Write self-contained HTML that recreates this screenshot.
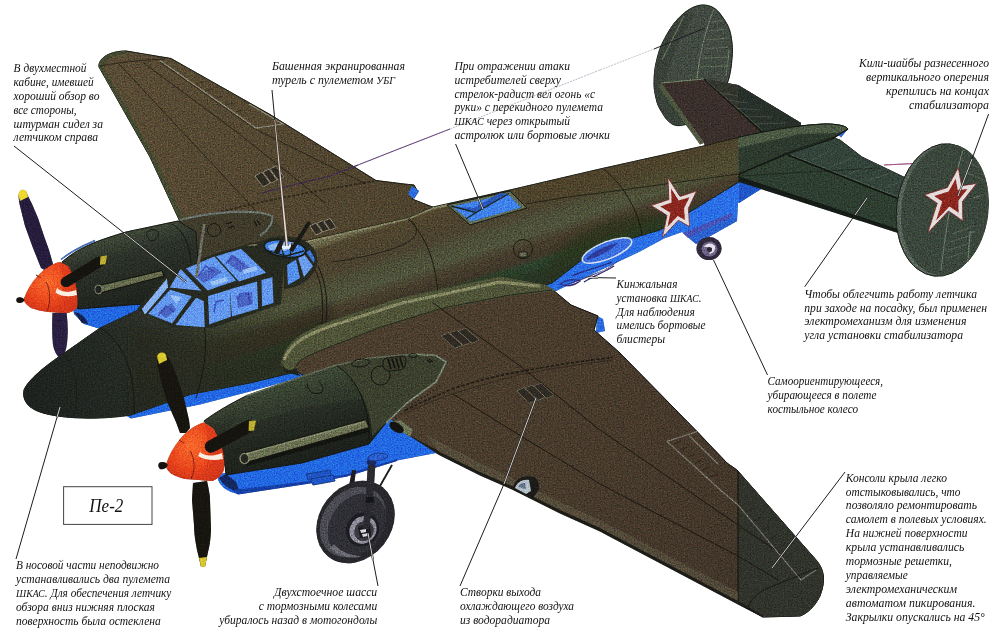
<!DOCTYPE html>
<html lang="ru"><head><meta charset="utf-8"><title>Пе-2</title>
<style>
html,body{margin:0;padding:0;background:#fff;}
body{width:1000px;height:637px;overflow:hidden;}
svg{display:block;}
.cap text{font-family:"Liberation Serif",serif;font-style:italic;font-size:12.5px;fill:#111;}
.cap .sc{font-size:10.8px;}
.ptr .pd{stroke:#1c1c1c;stroke-width:1;}
.ptr .po{stroke:#1c1c1c;stroke-width:2;}
.ptr .pw{stroke:#e8e8e4;stroke-width:0.9;}
</style></head><body>
<svg width="1000" height="637" viewBox="0 0 1000 637">
<rect width="1000" height="637" fill="#fff"/>
<g filter="url(#grain)">
<defs>
  <linearGradient id="gFus" gradientUnits="userSpaceOnUse" x1="430" y1="208" x2="461" y2="303">
    <stop offset="0" stop-color="#6c6a4c"/>
    <stop offset="0.05" stop-color="#50452e"/>
    <stop offset="0.3" stop-color="#4b422f"/>
    <stop offset="0.43" stop-color="#4c4e37"/>
    <stop offset="0.56" stop-color="#4f533b"/>
    <stop offset="0.67" stop-color="#473e2d"/>
    <stop offset="0.79" stop-color="#40372a"/>
    <stop offset="0.85" stop-color="#2c422b"/>
    <stop offset="1" stop-color="#283425"/>
  </linearGradient>
  <linearGradient id="gNose" gradientUnits="userSpaceOnUse" x1="20" y1="400" x2="300" y2="310">
    <stop offset="0" stop-color="#1d211e"/>
    <stop offset="0.3" stop-color="#232823"/>
    <stop offset="0.6" stop-color="#2c3229" stop-opacity="0.850"/>
    <stop offset="1" stop-color="#3c3f2a" stop-opacity="0"/>
  </linearGradient>
  <linearGradient id="gWingN" gradientUnits="userSpaceOnUse" x1="400" y1="330" x2="800" y2="600">
    <stop offset="0" stop-color="#4b3e2e"/>
    <stop offset="0.5" stop-color="#473a2c"/>
    <stop offset="1" stop-color="#3f3429"/>
  </linearGradient>
  <linearGradient id="gWingF" gradientUnits="userSpaceOnUse" x1="110" y1="60" x2="400" y2="220">
    <stop offset="0" stop-color="#594c35"/>
    <stop offset="1" stop-color="#4e432e"/>
  </linearGradient>
  <radialGradient id="gSpin" cx="0.45" cy="0.4" r="0.7">
    <stop offset="0" stop-color="#f8692c"/>
    <stop offset="0.6" stop-color="#e8431b"/>
    <stop offset="1" stop-color="#c62f17"/>
  </radialGradient>
  <linearGradient id="gNacN" gradientUnits="userSpaceOnUse" x1="290" y1="385" x2="312" y2="465">
    <stop offset="0" stop-color="#3e4936"/>
    <stop offset="0.25" stop-color="#2b3127"/>
    <stop offset="0.6" stop-color="#21261f"/>
    <stop offset="1" stop-color="#1b1f1a"/>
  </linearGradient>
  <linearGradient id="gNacF" gradientUnits="userSpaceOnUse" x1="120" y1="230" x2="138" y2="300">
    <stop offset="0" stop-color="#434c3a"/>
    <stop offset="0.35" stop-color="#2c3229"/>
    <stop offset="1" stop-color="#1f231e"/>
  </linearGradient>
  <filter id="grain" x="0" y="0" width="1000" height="637" filterUnits="userSpaceOnUse" color-interpolation-filters="sRGB">
    <feTurbulence type="fractalNoise" baseFrequency="0.7" numOctaves="2" seed="11" result="noise"/>
    <feColorMatrix in="noise" type="matrix" values="0.5 0.2 0.2 0 0.05  0.2 0.5 0.2 0 0.05  0.2 0.2 0.5 0 0.05  0 0 0 0 1" result="gn"/>
    <feComposite in="gn" in2="SourceAlpha" operator="in" result="gnc"/>
    <feBlend in="gnc" in2="SourceGraphic" mode="overlay"/>
  </filter>
  <clipPath id="cFus"><path d="M24,390 C28,380 45,366 63,354 L100,328 L138,310 L166,277 L250,244 L288,240 L305,241 L408,218 L433,207 L510,190 L600,169 L708,145 L738,137.500 C770,130 800,125 825,124 C838,124 846,126 848,129 L832,139 L799,150 L739,176 L739,182 L660,230 L631,238.500 L583,259 L552,283 L500,300 L312,368 L250,383 L190,394.500 L131,415 C100,420 60,419 40,412 C28,408 22,400 24,390 Z"/></clipPath>
  <filter id="b3" x="-20%" y="-20%" width="140%" height="140%"><feGaussianBlur stdDeviation="3.500"/></filter>
</defs>


<!-- ============ FAR WING ============ -->
<g id="farwing">
  <path d="M99,67 C98,58 110,51 126,51 L171,58.500 L270,114.500 L376,180.500 L404,184 L414,185 L418,192 L412,199 L440,210 L300,250 L182,226 L150,157 Z" fill="url(#gWingF)" stroke="#1a1c14" stroke-width="1"/>
  <!-- leading edge band -->
  <path d="M99,67 C98,58 110,51 126,51 L128,53.500 C113,54.500 103,60 103.500,68 L154,156 L186,224 L181,224 L150,157 Z" fill="#434a31"/>
  <path d="M412,186 L419,191 L414,199 L408,194 Z" fill="#2a6be0"/>
  <g fill="none" stroke="#1f1a14" stroke-width="0.8">
    <path d="M100,66 C120,62 145,60 165,59"/>
    <path d="M119,64 L246,200 L262,218"/>
    <path d="M143,62.500 L238,133 L301,183 L325,203"/>
    <path d="M160,62 L256,129.500 L366,184"/>
    <path d="M187,222 C240,204 320,190 376,181" stroke-dasharray="3 1.500" stroke-width="1.600" opacity="0.700"/>
  </g>
  <path d="M160,60.500 L256,128 L283,124 L249,104" fill="none" stroke="#8d8a74" stroke-width="1.200"/>
  <g stroke="#2a231a" stroke-width="0.800" opacity="0.800">
    <path d="M196,84 L203,82"/><path d="M206,91 L213,89"/><path d="M216,98 L223,96"/><path d="M226,105 L233,103"/><path d="M236,112 L243,110"/>
  </g>
  <!-- vents -->
  <g stroke="#9a9482" stroke-width="0.800" fill="#2e2a22">
    <path d="M255,176 L262,172 L270,183 L263,187 Z"/><path d="M263,172 L269,169 L277,180 L271,183 Z"/><path d="M270,169 L276,166 L284,177 L278,180 Z"/>
    <path d="M310,226 L316,223 L322,232 L316,235 Z"/><path d="M317,223 L323,220.500 L329,229.500 L323,232 Z"/><path d="M324,221 L330,218.500 L336,227.500 L330,230 Z"/>
  </g>
</g>

<!-- ============ FAR NACELLE ============ -->
<g id="farnac">
  <!-- blue underside -->
  <path d="M72,300 L140,290 L150,306 L104,330 L84,324 L74,314 Z" fill="#2268e2"/>
  <path d="M74,312 C78,312 86,316 88,324 L82,323 Z" fill="#14224e"/>
  <!-- rear fairing (brownish) -->
  <path d="M178,221 C200,214 250,208 272,216 L300,250 L200,290 L150,300 Z" fill="#3f3b2b"/>
  <!-- dark olive cowl -->
  <path d="M62,262 C80,246 100,240 126,232 L178,221 L196,232 L200,290 L150,304 L136,304.500 L78,309 C72,294 66,275 62,262 Z" fill="url(#gNacF)" stroke="#101210" stroke-width="0.900"/>
  <path d="M180,220 C215,211 256,209 272,216 C274,222 268,230 260,236" fill="none" stroke="#6c7a74" stroke-width="1.8"/>
  <path d="M172,224 C186,232 192,250 192,280" fill="none" stroke="#14140f" stroke-width="0.9"/>
  <!-- details -->
  <g fill="none" stroke="#12120e" stroke-width="0.900">
    <path d="M147,232 C150,229 156,229 158,232 C159,236 157,240 152,241 C148,240 146,236 147,232 Z"/>
    <circle cx="214" cy="230" r="6.500"/>
    <path d="M226,224 L232,222 M228,228 L234,226" stroke-width="1.200"/>
    <path d="M254,221 L257,226 M257,220 L260,225" stroke-width="1.100"/>
  </g>
  <!-- exhaust -->
  <path d="M97,286 L162,270.500 L164,276 L100,293 Z" fill="#666c4e" stroke="#15150f" stroke-width="1.1"/>
  <ellipse cx="98.500" cy="289.500" rx="3.600" ry="4.300" fill="#222" stroke="#7d836a" stroke-width="1.100"/>
  <!-- purple blades -->
  <path d="M19,194 C20,190 24,189 26,192 L32,204 L38,218 L44,236 L49,250 L53,264 L48,272 L41,268 L33,248 L25,226 L20,206 C18.500,200 18.500,196 19,194 Z" fill="#261c3c"/>
  <path d="M18.500,195 C19,189 25,188 27,193 L28,197 L20,201 Z" fill="#f0da2c"/>
  <path d="M52.500,313 L66.500,312 C68,325 68,335 67,343 C66,351 64,356 61,360 C57,356 54,351 53,345 C52,335 52,325 52.500,313 Z" fill="#2a1f42"/>
  <!-- spinner -->
  <path d="M23.400,300 C27,290 32,282 38.300,275.300 C45,268 52,264 59.500,262 L68,266 C72,272 75,280 76.400,289 C77.500,296 77.500,302 77,308 C74,311 70,312.500 66.500,313 L48,312 C42,311 36,310 31,308 C28,306 25,303 23.400,300 Z" fill="url(#gSpin)"/>
  <path d="M59.500,262 L68,266 C72,272 75,280 76.400,289 C77.500,296 77.500,302 77,308 C74,311 70,312.500 66.500,313 L56,312.500 C63,300 66,284 59.500,262 Z" fill="#d93a1c" opacity="0.600"/>
  <path d="M46,282 C50.500,290 51,302 47,311" fill="none" stroke="#7a1d10" stroke-width="0.900"/>
  <path d="M36,275 L41,278" fill="none" stroke="#7a1d10" stroke-width="0.900"/>
  <path d="M17,298 C20,296.500 23,297.500 24.500,300 C23.500,302.500 20,303.500 17.500,302.500 C16,301 16,299.500 17,298 Z" fill="#15120f"/>
  <path d="M57,288 C61,292 68,293 76,290 L77,295 C69,297.500 61,296.500 55.500,292.500 Z" fill="#fbeee2"/>
  <path d="M66,282 L99,262" stroke="#15140f" stroke-width="10.500" stroke-linecap="round" fill="none"/>
  <path d="M100.500,256.500 L107,255.500 L105.500,264 L100,265 Z" fill="#bfae2e"/>
  <path d="M61,259.500 C70,252 82,246 95,240.500" fill="none" stroke="#2a5fc8" stroke-width="1.400" opacity="0.800"/>
</g>

<!-- ============ FAR FIN + STABILIZER ============ -->
<g id="fartail">
  <path d="M703,5 C711,5 717,9 721,15 C727,23 730,29 731,36 C732.500,44 733,52 732,58 C731.500,66 730.500,72 729,78 L722,100 L700,122 L683,125 C679,126 676,126 672,124 C668,121 665,118 663,114 C659,108 657,104 656,98 C654.500,92 654,88 654,83 C654,74 655,66 657,59 C659,50 662,43 665,38 C670,28 676,20 683,14 C690,8 697,5 703,5 Z" fill="#414a41" stroke="#141812" stroke-width="0.900"/>
  <!-- fin shading: left darker -->
  <path d="M683,14 C676,20 670,28 665,38 C662,43 659,50 657,59 C655,66 654,74 654,83 C654,88 654.500,92 656,98 C657,104 659,108 663,114 C665,118 668,121 672,124 L683,125 L672,100 L664,84 L676,48 L694,14 Z" fill="#384138"/>
  <!-- rudder hinge/ribs -->
  <g fill="none" stroke="#8a9478" stroke-width="0.9" opacity="0.8">
    <path d="M714,9 C706,28 700,52 697,78"/>
    <path d="M684,16 L662,60"/>
    <path d="M729,50 L726,76"/>
  </g>
  <g stroke="#7c8a70" stroke-width="0.8" opacity="0.6">
    <path d="M712,22 L723,20"/><path d="M709,31 L727,29"/><path d="M706,40 L729,38"/><path d="M704,49 L728,47"/><path d="M702,58 L728,57"/><path d="M700,67 L727,66"/>
  </g>
  <!-- stabilizer -->
  <path d="M661.500,83 L704,79 L738,85 L801,123 L801,132 L738,142 L706,150 L704,143 Z" fill="#3a2f2b"/>
  <path d="M704,79 L738,85 L801,123 L801,131 L766,136 Z" fill="#31352c"/>
  <path d="M738,85 L801,123 L801,131 L766,136 L738,111 Z" fill="#27302a"/>
  <path d="M661.500,83 L704,143 L700,144.500 L659,87.500 Z" fill="#4f573f"/>
  <g stroke="#6c7466" stroke-width="0.700" opacity="0.550">
    <path d="M716,92 L738,96"/><path d="M724,100 L748,103"/><path d="M733,108 L760,110"/><path d="M742,116 L772,117"/><path d="M752,124 L786,123"/>
  </g>
  <path d="M661.500,83 L704,79" stroke="#7b8468" stroke-width="1.200" fill="none"/>
  <path d="M704,79 L764,134" stroke="#15150f" stroke-width="1.600" fill="none"/>
  <path d="M706,80 L762,130" stroke="#7b8468" stroke-width="0.600" fill="none" opacity="0.7"/>
</g>

<!-- ============ FUSELAGE ============ -->
<g id="fus">
  <!-- blue belly rear -->
  <path d="M546,286 L583,259 L631,238.500 L660,230 L739,181 L761,189 L738,203 L737,221 L696,244 L682,232 L664,238.500 L640,251.500 L604,268.500 L556,291 Z" fill="#2a6fe6"/>
  <!-- blue nose strip -->
  <path d="M120,412 L190,393 L250,381 L312,366 L313,373 L308,375.500 L250,391.500 L200,404.500 L131,418.500 Z" fill="#2268e2"/>
  <path d="M24,390 C28,380 45,366 63,354 L100,328 L138,310 L166,277 L250,244 L288,240 L305,241 L408,218 L433,207 L510,190 L600,169 L708,145 L738,137.500 C770,130 800,125 825,124 C838,124 846,126 848,129 L832,139 L799,150 L739,176 L739,182 L660,230 L631,238.500 L583,259 L552,283 L500,300 L312,368 L250,383 L190,394.500 L131,415 C100,420 60,419 40,412 C28,408 22,400 24,390 Z" fill="url(#gFus)" stroke="#14160f" stroke-width="0.900"/>
  <path d="M24,390 C28,380 45,366 63,354 L100,328 L138,310 L166,277 L250,244 L330,290 L312,368 L250,383 L190,394.500 L131,415 C100,420 60,419 40,412 C28,408 22,400 24,390 Z" fill="url(#gNose)"/>
  <!-- colour zones -->
  <g clip-path="url(#cFus)"><g filter="url(#b3)">
  <path d="M526,204 L600,193 L738,174 L738,137.500 L708,145 L600,169 L510,190 Z" fill="#4e412c" opacity="0.550"/>
  <path d="M560,250 C580,228 620,214 660,214 L690,222 L660,230 L631,238.500 L583,259 L552,283 L540,280 Z" fill="#26331f" opacity="0.700"/>
  <path d="M300,330 L420,296 L500,276 L552,284 L552,296 L300,372 Z" fill="#263320" opacity="0.550"/>
  <path d="M130,330 L210,335 L290,316 L330,300 L340,340 L250,384 L131,416 Z" fill="#1f261d" opacity="0.450"/>
  </g></g>
  <!-- top highlight -->
  <path d="M306,242 L408,219 L433,208 L448,205" fill="none" stroke="#8b8a68" stroke-width="1.800" opacity="0.9"/>
  <!-- seam darkening right of 738 -->
  <path d="M738,137.500 C770,130 800,125 825,124 C838,124 846,126 848,129 L832,139 L799,150 L739,176 Z" fill="#2d3a2d"/>
  <path d="M738,137.500 C770,130 800,125 825,124 C838,124 846,126 848,129 L838,133 L800,134 L738,148 Z" fill="#4c5a44"/>
  <path d="M738,137.500 C770,130 800,125 825,124 C838,124 846,126 848,129" fill="none" stroke="#151a12" stroke-width="1"/>
  <path d="M739,181 L761,189 L739,203 Z" fill="#1f55c8"/>
  <path d="M838,134.500 L847,130 L841,137.500 Z" fill="#2a6be0"/>
  <!-- panel lines -->
  <g fill="none" stroke="#15150f" stroke-width="0.9">
    <path d="M100,328 C122,340 136,372 134,414"/>
    <path d="M63,354 C76,368 80,390 74,416" opacity="0.6"/>
    <path d="M203,322 C208,340 206,366 196,398"/>
    <path d="M314,268 C322,282 324,300 322,326"/>
    <path d="M318,266 C326,282 328,300 326,324"/>
    <path d="M408,219 C426,236 436,262 438,296"/>
    <path d="M604,169 C626,188 640,215 642,236"/>
    <path d="M331,262 C350,260 380,254 400,246 C414,240 424,232 409,218" opacity="0.8"/>
    <path d="M526,204 C560,198 590,194 600,193 L738,174" opacity="0.8"/>
  </g>
</g>

<!-- ============ NEAR STABILIZER + FIN ============ -->
<g id="neartail">
  <!-- under face -->
  <path d="M739,175 L899,229 L898,233 L739,182 Z" fill="#151b17"/>
  <path d="M739,174 L787,153 L799,148.500 L833,137.500 L840,140 L862,157 L912,181 L899,230 L739,177 Z" fill="#2e3e30" stroke="#10140f" stroke-width="0.800"/>
  <path d="M788,155 L799,149 L833,138 L840,140 L862,157 L912,181 L901.500,200 Z" fill="#33433a"/>
  <path d="M788,155 L901.500,200" stroke="#0f130f" stroke-width="1.600" fill="none"/>
  <path d="M790,154.500 L902,198.500" stroke="#6d7a64" stroke-width="0.600" fill="none" opacity="0.7"/>
  <g stroke="#6d7a64" stroke-width="0.700" opacity="0.500">
    <path d="M812,160 L832,150"/><path d="M830,167 L852,158"/><path d="M848,174 L870,166"/><path d="M866,181 L888,174"/><path d="M884,188 L904,181"/>
  </g>
  <path d="M739,176 L880,168" stroke="#10140f" stroke-width="0.700" fill="none" opacity="0.700"/>
  <path d="M848,129 L832,139 L799,150 L787,154 L739,174" fill="none" stroke="#10140f" stroke-width="1.100"/>
  <!-- purple wire -->
  <path d="M884,165 L925,163" stroke="#b04a8a" stroke-width="0.900" fill="none"/>
  <!-- fin -->
  <ellipse cx="942" cy="210" rx="45.500" ry="66.500" transform="rotate(7 942 210)" fill="#56635a" stroke="#141812" stroke-width="0.900"/>
  <ellipse cx="945" cy="209.500" rx="43.500" ry="65.500" transform="rotate(7 945 209.5)" fill="#3a463b"/>
  <g fill="none" stroke="#8fa08a" stroke-width="0.900" opacity="0.700">
    <path d="M963,150 C952,186 946,230 941,270"/>
    <path d="M975,232 L970,232 L968,262"/>
    <path d="M980,196 L973,198"/>
    <path d="M952,234 L974,226" opacity="0.500"/><path d="M950,242 L972,235" opacity="0.500"/><path d="M948,250 L968,244" opacity="0.500"/><path d="M946,258 L963,253" opacity="0.500"/>
    <path d="M962,160 L980,168" opacity="0.400"/><path d="M960,170 L984,180" opacity="0.400"/>
  </g>
  <polygon points="958.3,167.7 961.6,185.7 976.7,183.5 962.5,201.6 962.9,220.9 948.5,211.0 927.7,232.9 937.2,203.3 924.7,194.8 947.3,187.5" fill="#e4dcdc" stroke="#7a2320" stroke-width="0.800"/>
<polygon points="955.7,178.8 957.8,190.3 967.4,188.9 958.4,200.5 958.6,212.8 949.4,206.5 936.1,220.5 942.2,201.6 934.2,196.1 948.6,191.5" fill="#8a261e"/>
</g>

<!-- fuselage star -->
<polygon points="667.9,177.6 680.0,196.4 696.6,191.1 688.4,208.4 689.6,226.6 678.3,220.3 662.4,237.3 667.0,215.3 651.1,205.5 668.9,199.6" fill="#e4dcdc" stroke="#7a2320" stroke-width="0.800"/>
<polygon points="671.0,188.5 678.7,200.6 689.4,197.2 684.1,208.3 684.9,219.9 677.7,215.9 667.5,226.8 670.4,212.7 660.2,206.4 671.6,202.6" fill="#8a261e"/>

<!-- tail wheel -->
<g id="tailwheel">
  <path d="M683,233 L731,213 L737,221 L696,244 Z" fill="#2a62d0"/>
  <path d="M683,233 L731,213 L733,216 L688,238 Z" fill="#5b47a8" opacity="0.600"/>
  <ellipse cx="709" cy="248.500" rx="12.500" ry="11.500" fill="#30283c"/>
  <ellipse cx="709.500" cy="249" rx="8" ry="7.500" fill="#6e6488"/>
  <path d="M704,247 C706,243 712,242 715,246 C716,250 713,254 709,254 C711,251 711,248 708,247 Z" fill="#e6e2f0"/>
  <ellipse cx="709.500" cy="249.500" rx="2.500" ry="2.500" fill="#2a2434"/>
</g>

<!-- ============ NEAR WING ============ -->
<g id="nearwing">
  <!-- blue flap end -->
  <path d="M597,316 L603,319 L605,331 L596,333 Z" fill="#2a6be0"/>
  <path d="M283,362 C290,340 305,334 325,328 L400,303 L500,278 L553,290 L571,305 L598,316 L594,330 L620,353 L697,431.500 L727,463 L737,470 L817,561 C824,570 826,580 820,596 C814,608 806,614 800,616 L763,617 L738,603 L600,530 L560,512 L512,488 L480,474 L440,454 L410,436 L391,423 L340,400 Z" fill="url(#gWingN)" stroke="#15130f" stroke-width="1"/>
  <!-- fillet -->
  <path d="M281,364 C284,344 298,334 325,323 L400,298 L500,276.500 L546,285 L556,291 L510.500,296 L443,309 L380,328 L330,347 C305,356 297,360 293,370 C288,372 283,370 281,364 Z" fill="#4f5438"/>
  <path d="M284,360 C290,344 304,336 328,327 L402,303 L500,282 L540,286" fill="none" stroke="#8c8e68" stroke-width="3" opacity="0.900"/>
  <path d="M296,366 C300,358 312,354 332,346 L381,327 L443,308 L510,295 L552,290" fill="none" stroke="#23281d" stroke-width="1"/>
  <path d="M282,363 C284,370 290,372 296,368 L300,376 L284,372 Z" fill="#20241c"/>
  <!-- seam darkening -->
  <path d="M738,471 L817,561 C824,570 826,580 820,596 C814,608 806,614 800,616 L763,617 L738,603 Z" fill="#30332b"/>
  <path d="M738,471 L738,603" stroke="#14160f" stroke-width="1.200"/>
  <g fill="none" stroke="#17120d" stroke-width="0.900">
    <path d="M432.500,302.500 L522,367.500 L600,430 L738,525 L780,553"/>
    <path d="M453,394 L520,435.500 L600,484 L738,556 L778,580"/>
    <path d="M697,431.500 L667,441.500 L721,490.500 L738,505 L801,580 L816,570" stroke="#7d7a70" stroke-width="1.100"/>
    <path d="M689,435.500 L718,464" stroke="#7d7a70" stroke-width="1.100"/>
    
    <path d="M748,607 C752,598 758,593 764,590 C782,582 800,575 818,568" stroke="#15150f"/>
  </g>
  <g fill="none" stroke="#17120d" stroke-width="1.700" stroke-dasharray="3.500 1.600" opacity="0.750">
    <path d="M405,410.500 C430,398 450,390 455,388 C480,380 500,375 520.500,371.500 C560,364 590,360 613,357.500"/>
  </g>
  <path d="M405,413.500 C430,401 456,391 521,374.500 C560,367 590,363 613,360" fill="none" stroke="#17120d" stroke-width="0.600" opacity="0.800"/>
  <!-- aileron ticks -->
  <g stroke="#221b15" stroke-width="0.900" opacity="0.800">
    <path d="M674,444 L681,441"/><path d="M681,450 L688,447"/><path d="M688,457 L695,454"/><path d="M695,463 L702,460"/><path d="M703,470 L710,467"/><path d="M711,477 L718,474"/>
    <path d="M746,512 L753,508"/><path d="M754,521 L761,517"/><path d="M762,530 L769,526"/><path d="M770,539 L777,535"/><path d="M778,548 L785,544"/><path d="M786,557 L793,553"/>
  </g>
  <!-- vents -->
  <g stroke="#9a9482" stroke-width="0.800" fill="#2e2a22" paint-order="stroke">
    <path d="M441.500,336 L448.500,333 L462,345 L455,348 Z"/><path d="M450,333 L457,330.500 L470.500,342 L463.500,345 Z"/><path d="M458.500,331 L465.500,328.500 L479,340 L472,343 Z"/>
    <path d="M517,391 L524,388 L536.500,400 L529.500,403 Z"/><path d="M525.500,388 L532.500,385.500 L545,397 L538,400 Z"/><path d="M534,386 L541,383.500 L553.500,395 L546.500,398 Z"/>
  </g>
  <!-- leading edge highlight -->
  <path d="M425,434 L480,463 L512,478 L560,502 L600,520 L738,592 L738,602 L600,529 L560,511 L512,487 L480,473 L440,453 Z" fill="#5f5a46" opacity="0.550"/>
  <!-- leading edge underside -->
  <path d="M405,433 L440,452 L480,472 L512,486 L560,510 L600,528 L738,601 L763,615.500 L763,617.500 L738,604.500 L600,531.500 L560,513.500 L512,489.500 L480,475.500 L440,455.500 L408,437 Z" fill="#1c1c16"/>
  <!-- landing light -->
  <path d="M513,488 C514,479 524,474 534,477 C539,480 540,486 538,491 L533,498 Z" fill="#1b1b17"/>
  <path d="M515,488 C517,482 523,479 529,480 L531,491 L526,494 Z" fill="#b4bfca"/>
  <path d="M518,487 C519,484 522,483 525,483 L526,489 Z" fill="#5f6f86"/>
</g>

<!-- ============ NEAR NACELLE ============ -->
<g id="nearnac">
  <!-- blue underside -->
  <path d="M218,474 L302,463 L369,443 L380,420 L392,420 L402,431 L436,453 L397,460.500 L347,476 L310,483 L238,494 C228,492 221,487 218,480 Z" fill="#2268e2"/>
  <path d="M219,478 C224,486 230,490 240,492 L236,482 L226,474 Z" fill="#14275e"/>
  <path d="M232,490 L310,481 L347,474 L397,459 L397,461 L347,476.500 L310,483.500 L238,494.500 Z" fill="#153fa8"/>
  <path d="M306,474 L330,470 L331,476 L308,480 Z" fill="#1e55c4" stroke="#16307a" stroke-width="0.700"/>
  <!-- body -->
  <path d="M204,421 C216,412 230,404 246,396 L302,376.500 L336,365 L369,358 L414,354 L436,355.500 L446,362 L436,382 L408,402 L386,423 L369,444 L302,463 L226,475 C225,455 216,436 204,421 Z" fill="url(#gNacN)" stroke="#101210" stroke-width="0.900"/>
  <!-- rear fairing brownish -->
  <path d="M336,365 L369,358 L414,354 L436,355.500 L446,362 L436,382 L408,402 L386,423 L372,436 C372,410 360,384 336,365 Z" fill="#3b402e"/>
  <path d="M246,396 L302,376.500 L336,365 C350,372 360,384 365,398 L300,408 L230,430 Z" fill="#364332" opacity="0.400"/>
  <path d="M414,354 L436,355.500 L446,362 L436,382 L408,402 L386,423" fill="none" stroke="#7d8a78" stroke-width="1.600"/>
  <path d="M336,365 C356,378 370,404 369,440" fill="none" stroke="#10100c" stroke-width="1"/>
  <path d="M246,396 L302,376.500 L336,365 L369,358 L414,354 L436,355.500" fill="none" stroke="#6f7a62" stroke-width="1.400" opacity="0.800"/>
  <!-- top details -->
  <g fill="none" stroke="#12120e" stroke-width="0.900">
    <ellipse cx="360.500" cy="363" rx="9" ry="3.800" transform="rotate(-8 360.5 363)"/>
    <circle cx="380.500" cy="375.500" r="9.500"/>
    <path d="M383,362 C383,359 386,358 390,357.500 L402,356 C405,356 406,358 406,361 L405,366 C404,369 402,369.500 399,370 L390,371 C386,371 384,369 383,366 Z" fill="#3a3c2c"/>
    <path d="M388,359 L391,369 M392,358.500 L395,368.500 M396,358 L399,368 M400,357.500 L403,367.500" stroke-width="1.600"/>
    <ellipse cx="413" cy="355.500" rx="4" ry="2"/>
    <path d="M427,360 L431,363 M429,359 L433,362" stroke-width="1.100"/>
    <path d="M307,384 C308,392 314,396 322,392 C324,388 322,384 318,381"/>
  </g>
  <!-- rivets along rear fairing -->
  <path d="M440,386 L410,406 L390,424" fill="none" stroke="#15150f" stroke-width="1.200" stroke-dasharray="1.200 2.400" opacity="0.800"/>
  <!-- intake -->
  <path d="M388,423 L400,420 L413,430 L410,437 Z" fill="#6c7458"/>
  <ellipse cx="396.500" cy="427.500" rx="8" ry="4.500" transform="rotate(32 396.5 427.5)" fill="#14140f"/>
  <!-- exhaust -->
  <path d="M243,462 L368,428 L369,432 L247,466 Z" fill="#121410"/>
  <path d="M242,453.500 L366,419.500 L369,427.500 L246,462.500 Z" fill="#6a7052" stroke="#15150f" stroke-width="1.100"/>
  <path d="M244,454.500 L365,421.500" stroke="#8b9272" stroke-width="1.200" fill="none"/>
  <ellipse cx="244.500" cy="458.500" rx="4.500" ry="5.200" fill="#262622" stroke="#8a8f70" stroke-width="1.300"/>
  <!-- blades -->
  <path d="M160,353 L165,354 C168,357 170,360 171,362 L177,377 L184,398 L189,420 L190,428 L186,433 L180,433 L176,422 L168,404 L162,385 L158,368 C157,363 156.500,359 157,357 Z" fill="#17150f"/>
  <path d="M157,357 C157.500,352 164,351 166,355 L167,360 L159,364 Z" fill="#d8c72e"/>
  <path d="M193,483 L207,481 C209,490 210,496 210,500 L211,530 C210.500,540 209.500,547 208,552 L205,566 L201,566 L197,550 C195,540 194,532 194,525 L192,500 Z" fill="#17150f"/>
  <path d="M199,558 L207,557 L205,567 L201,567 Z" fill="#d8c72e"/>
  <!-- spinner -->
  <path d="M165.500,465.700 C169,455 174,446 181,438 C188,430 196,425 203.700,422.600 L213,428.300 C218,436 222,446 223.500,455 C224.500,461 224.500,466 223.500,470.700 C221,476 217,479.500 212,481 L185,479 C180,478 175,476 171,473.500 C168,471 166,468 165.500,465.700 Z" fill="url(#gSpin)"/>
  <path d="M203.700,422.600 L213,428.300 C218,436 222,446 223.500,455 C224.500,461 224.500,466 223.500,470.700 C221,476 217,479.500 212,481 L200,480 C208,470 212,450 203.700,422.600 Z" fill="#d93a1c" opacity="0.600"/>
  <path d="M190,451 C195,459 195.500,470 191,479" fill="none" stroke="#7a1d10" stroke-width="0.900"/>
  <path d="M179,440 L184,443" fill="none" stroke="#7a1d10" stroke-width="0.900"/>
  <path d="M159,463 C162,461 166,462 168,465 C167,468 163,470 160,469 C158,467 158,465 159,463 Z" fill="#15120f"/>
  <path d="M200,452 C204,456 212,457 222,453 L223,459 C214,461 204,460 198,456 Z" fill="#fbeee2"/>
  <path d="M211,446.500 L249,426" stroke="#15140f" stroke-width="12.500" stroke-linecap="round" fill="none"/>
  <path d="M249,421 L256,420.500 L254,430.500 L248.500,431 Z" fill="#bfae2e"/>
</g>

<!-- ============ MAIN WHEEL ============ -->
<g id="wheel">
  <!-- rear leg + brace -->
  <path d="M352,470 L356,470 L354,486 L349,486 Z" fill="#1d1d22"/>
  <path d="M392,465 L372,500" stroke="#1b1b20" stroke-width="1.600"/>
  <!-- small door -->
  <path d="M310,479 L333,475 L335,481 L313,485 Z" fill="#1f55c8" stroke="#16307a" stroke-width="0.700"/>
  <!-- tyre -->
  <ellipse cx="355.500" cy="522" rx="44" ry="36" transform="rotate(-52 355.5 522)" fill="#27272c"/>
  <ellipse cx="353" cy="522" rx="38" ry="30" transform="rotate(-52 353 522)" fill="#4b4b52"/>
  <ellipse cx="357" cy="525" rx="34" ry="26.500" transform="rotate(-54 357 525)" fill="#2f2f35"/>
  <path d="M330,548 C338,556 350,560 362,556 C352,556 340,552 334,544 Z" fill="#77777e" opacity="0.800"/>
  <!-- hub -->
  <ellipse cx="362.500" cy="529.500" rx="17.500" ry="16" transform="rotate(-50 362.5 529.5)" fill="#1c1c20"/>
  <ellipse cx="363" cy="530" rx="14.500" ry="13" transform="rotate(-50 363 530)" fill="#8f8c98"/>
  <ellipse cx="364" cy="531" rx="10.500" ry="9.500" transform="rotate(-50 364 531)" fill="#3a3840"/>
  <path d="M358,527 L370,524 L371,537 L360,538 Z" fill="#1a1a1e"/>
  <path d="M360,530 L366,529 L366,532 L361,533 Z M362,534 L368,533 L368,536 L363,537 Z" fill="#d8d6de"/>
  <!-- main strut -->
  <path d="M368,463 L375.500,463 L373,500 L369,529 L362.500,529 L365.500,500 Z" fill="#2a2a30"/>
  <path d="M366,497 L374,497 L373.500,503 L365.500,503 Z" fill="#15151a"/>
  <ellipse cx="371.500" cy="462" rx="5" ry="3.500" fill="#1c2a5a"/>
  <path d="M368,457 C374,452 384,452 388,456 C384,461 374,462 368,460 Z" fill="#2a5fd0" stroke="#15307a" stroke-width="0.800"/>
</g>

<!-- ============ COCKPIT ============ -->
<g id="cockpit">
  <!-- frame base -->
  <path d="M137,309 L165,276 L184,266 L214,254 L242,246 L262,246 L284,264 L281,304 L212,328 L172,327 Z" fill="#262a20"/>
  <g fill="#6398ee">
    <path d="M141.9,309.0 L166.9,278.4 L168.0,287.2 L145.1,314.4 Z" fill="#86b2f0"/>
    <path d="M148.2,313.7 L170.0,289.7 L191.8,296.2 L172.1,323.5 Z"/>
    <path d="M175.4,325.0 L196.1,297.8 L203.7,301.0 L204.8,327.2 Z"/>
    <path d="M169.8,287.4 L180.7,268.9 L201.4,290.7 Z" fill="#6a9cee"/>
    <path d="M185.9,268.6 L214.3,256.6 L236.1,280.5 L207.7,290.4 Z"/>
    <path d="M216.0,256.3 L241.0,248.7 L266.1,272.7 L238.9,281.4 Z"/>
    <path d="M208.1,296.1 L229.9,289.6 L230.9,316.8 L209.1,324.5 Z"/>
    <path d="M229.8,289.2 L257.1,281.6 L258.1,308.8 L232.0,316.4 Z"/>
    <path d="M261.5,280.0 L272.4,277.3 L273.5,302.9 L262.1,306.2 Z"/>
  </g>
  <!-- interior strokes -->
  <g fill="none" stroke="#3238a0" stroke-width="1.600" opacity="0.700">
    <path d="M198,276 L206,266 L214,272"/>
    <path d="M226,264 L232,256 L244,266"/>
    <path d="M238,300 L240,294 L248,293 L250,304"/>
    <path d="M214,312 L216,302 L224,300"/>
    <path d="M158,316 L166,306 L174,312"/>
  </g>
  <!-- darker reflections -->
  <g fill="#3a44a8" opacity="0.600">
    <path d="M196,277 L212,266 L222,272 L204,283 Z"/>
    <path d="M226,262 L234,255 L250,268 L240,272 Z"/>
    <path d="M236,296 L252,292 L253,304 L238,308 Z"/>
    <path d="M158,312 L172,303 L176,310 L166,318 Z"/>
  </g>
  <g fill="#a9cdf6" opacity="0.8">
    <path d="M210,282 L226,277 L228,281 L212,286 Z"/>
    <path d="M242,270 L256,266 L258,270 L244,274 Z"/>
    <path d="M170,295 L182,297 L176,304 Z"/>
  </g>
  <!-- turret -->
  <path d="M256,246 C262,237 282,234 298,238 C312,242 320,254 317,266 C312,280 298,288 284,289 L284,264 Z" fill="#262a20"/>
  <g fill="#5590ec">
    <path d="M287,265 L296,259.500 L300,278 L288,285 Z"/>
    <path d="M298,258 L304,254 L313,266 L304,277 Z" fill="#6a9cee"/>
    <path d="M306,252 L310,250 L315,259 L314,263 Z" fill="#3f74d8"/>
  </g>
  <ellipse cx="285" cy="248.500" rx="21" ry="8.500" transform="rotate(8 285 248.5)" fill="#3f7fe4" stroke="#1a1d16" stroke-width="1.800"/>
  <path d="M268,246 C274,242 286,241 296,243 L298,247 L284,251 L270,250 Z" fill="#8db6f2"/>
  <path d="M276,246.500 L292,244.500 L294,248 L280,250 Z" fill="#e4eefc"/>
  <path d="M266,250 L286,256 L304,251" fill="none" stroke="#1a1d16" stroke-width="1.300"/>
  <path d="M280,244 L284,256 M292,243 L290,256" fill="none" stroke="#1a1d16" stroke-width="1.200"/>
  <!-- gun -->
  <path d="M289,250 L308,221 L311,223 L293,252 Z" fill="#1a1a16"/>
  <path d="M274,252 L280,240 L284,241 L279,254 Z" fill="#1a1a16"/>
  <!-- antenna mast -->
  <path d="M203,224 L205.500,224 L198,277 L195,277 Z" fill="#6c6c62"/>
</g>

<!-- dorsal hatch -->
<path d="M447,205 L510,191 L527,208 L470,225 Z" fill="#5e6a52" stroke="#161a12" stroke-width="1"/>
<path d="M452,206.500 L508,194 L521,207.500 L471,221.500 Z" fill="#3f82ea"/>
<path d="M452,206.500 L476,212 L508,194 L500,193 L474,208 Z" fill="#2a55b8"/>
<path d="M451,206 L476,212.500 L466,219 M476,212.500 L509,193.500" fill="none" stroke="#1c241c" stroke-width="1.300"/>
<!-- blister -->
<path d="M556,288 C570,284 590,278 612,266 L622,258 L604,270 Z" fill="#2a2a7a" opacity="0.700"/>
<g fill="none" stroke="#2e2478" stroke-width="1.300" opacity="0.900">
  <path d="M560,284 C566,280 574,278 580,281 C574,286 566,287 560,284 Z"/>
  <path d="M572,276 C584,270 598,268 612,262"/>
  <path d="M584,282 C594,276 604,272 614,266"/>
</g>
<ellipse cx="607" cy="250.500" rx="26.500" ry="8.500" transform="rotate(-22 607 250.5)" fill="#3a6fe0" stroke="#d5def2" stroke-width="1.500"/>
<path d="M586,259 C592,252 604,246 618,243 C612,250 600,256 588,260 Z" fill="#2b2f8c" opacity="0.800"/>
<!-- round hatch -->
<circle cx="523" cy="249" r="9.500" fill="none" stroke="#15150f" stroke-width="0.900"/>
<path d="M519,252 L527,252 L527,257 L519,257 Z" fill="#6a6a52" stroke="#15150f" stroke-width="0.800"/>


<g id="wire" fill="none">
  <path d="M262,193 L281,188 L330,176 L358,165" stroke="#3d2358" stroke-width="1.100" opacity="0.900"/>
  <path d="M358,165 L396,150 L450,129" stroke="#6a3f88" stroke-width="1" opacity="0.800"/>
  <path d="M450,129 L600,70" stroke="#a07ab0" stroke-width="0.800" opacity="0.400" stroke-dasharray="2 1"/>
  <path d="M600,70 L654,49" stroke="#a07ab0" stroke-width="0.800" opacity="0.350" stroke-dasharray="2 1"/>
  <path d="M654,49 L705,28" stroke="#14111c" stroke-width="0.900" opacity="0.850"/>
</g>

</g>
<g class="ptr">
<line x1="14" y1="146" x2="124" y2="233" class="pd"/>
<line x1="124" y1="233" x2="186" y2="282" class="po"/>
<line x1="124" y1="233" x2="186" y2="282" class="pw"/>
<line x1="272" y1="90" x2="274.8" y2="120" class="pd"/>
<polygon points="273.90000000000003,120 275.7,120 288.7,246 285.3,246" fill="#4a3a30"/>
<polygon points="274.5,120 275.1,120 287.9,246 286.1,246" fill="#e6dcd8"/>
<line x1="455.6" y1="144" x2="478.4" y2="198" class="pd"/>
<line x1="478.4" y1="198" x2="483" y2="209" class="po"/>
<line x1="478.4" y1="198" x2="483" y2="209" class="pw"/>
<line x1="988.6" y1="114" x2="972" y2="159" class="pd"/>
<line x1="972" y1="159" x2="958" y2="196" class="po"/>
<line x1="972" y1="159" x2="958" y2="196" class="pw"/>
<line x1="804.7" y1="286.8" x2="855" y2="215" class="pd"/>
<line x1="855" y1="215" x2="867" y2="198" class="po"/>
<line x1="855" y1="215" x2="867" y2="198" class="pw"/>
<line x1="616" y1="278" x2="598" y2="277.7" class="pd"/>
<line x1="598" y1="277.7" x2="588" y2="277.5" class="po"/>
<line x1="598" y1="277.7" x2="588" y2="277.5" class="pw"/>
<line x1="767.5" y1="375" x2="713.5" y2="260" class="pd"/>
<line x1="845" y1="472" x2="795.7" y2="536.8" class="pd"/>
<line x1="795.7" y1="536.8" x2="772" y2="568" class="po"/>
<line x1="795.7" y1="536.8" x2="772" y2="568" class="pw"/>
<line x1="16" y1="559" x2="56.8" y2="418" class="pd"/>
<line x1="56.8" y1="418" x2="60" y2="407" class="po"/>
<line x1="56.8" y1="418" x2="60" y2="407" class="pw"/>
<line x1="378" y1="586" x2="373" y2="560" class="pd"/>
<line x1="373" y1="560" x2="368" y2="533" class="po"/>
<line x1="373" y1="560" x2="368" y2="533" class="pw"/>
<line x1="460" y1="586" x2="504" y2="484" class="pd"/>
<line x1="504" y1="484" x2="536" y2="398" class="po"/>
<line x1="504" y1="484" x2="536" y2="398" class="pw"/>
</g>
<rect x="63.6" y="486.7" width="88.4" height="37.7" fill="#fff" stroke="#444" stroke-width="1"/>
<g class="cap">
<text x="89.3" y="511.6" textLength="34" lengthAdjust="spacingAndGlyphs" style="font-size:18px">Пе-2</text>
<text x="13.6" y="72.0" textLength="72.8" lengthAdjust="spacingAndGlyphs">В двухместной</text>
<text x="13.6" y="86.0" textLength="80.0" lengthAdjust="spacingAndGlyphs">кабине, имевшей</text>
<text x="13.6" y="100.0" textLength="85.8" lengthAdjust="spacingAndGlyphs">хороший обзор во</text>
<text x="13.6" y="113.7" textLength="63.0" lengthAdjust="spacingAndGlyphs">все стороны,</text>
<text x="13.6" y="127.6" textLength="89.4" lengthAdjust="spacingAndGlyphs">штурман сидел за</text>
<text x="13.6" y="141.4" textLength="84.4" lengthAdjust="spacingAndGlyphs">летчиком справа</text>
<text x="272.0" y="70.0" textLength="133.0" lengthAdjust="spacingAndGlyphs">Башенная экранированная</text>
<text x="272.0" y="84.0" textLength="123.0" lengthAdjust="spacingAndGlyphs">турель с пулеметом <tspan class="sc">УБГ</tspan></text>
<text x="454.4" y="70.0" textLength="115.6" lengthAdjust="spacingAndGlyphs">При отражении атаки</text>
<text x="454.4" y="83.7" textLength="106.6" lengthAdjust="spacingAndGlyphs">истребителей сверху</text>
<text x="454.4" y="97.6" textLength="140.6" lengthAdjust="spacingAndGlyphs">стрелок-радист вел огонь «с</text>
<text x="454.4" y="111.4" textLength="148.6" lengthAdjust="spacingAndGlyphs">руки» с перекидного пулемета</text>
<text x="454.4" y="125.2" textLength="115.6" lengthAdjust="spacingAndGlyphs"><tspan class="sc">ШКАС</tspan> через открытый</text>
<text x="454.4" y="139.0" textLength="155.6" lengthAdjust="spacingAndGlyphs">астролюк или бортовые лючки</text>
<text x="859.0" y="67.4" textLength="130.0" lengthAdjust="spacingAndGlyphs">Кили-шайбы разнесенного</text>
<text x="866.0" y="81.1" textLength="123.0" lengthAdjust="spacingAndGlyphs">вертикального оперения</text>
<text x="886.0" y="95.0" textLength="103.0" lengthAdjust="spacingAndGlyphs">крепились на концах</text>
<text x="909.0" y="108.8" textLength="80.0" lengthAdjust="spacingAndGlyphs">стабилизатора</text>
<text x="804.3" y="297.7" textLength="172.7" lengthAdjust="spacingAndGlyphs">Чтобы облегчить работу летчика</text>
<text x="804.3" y="311.6" textLength="182.7" lengthAdjust="spacingAndGlyphs">при заходе на посадку, был применен</text>
<text x="804.3" y="325.4" textLength="162.1" lengthAdjust="spacingAndGlyphs">электромеханизм для изменения</text>
<text x="804.3" y="339.3" textLength="158.7" lengthAdjust="spacingAndGlyphs">угла установки стабилизатора</text>
<text x="616.6" y="288.0" textLength="60.8" lengthAdjust="spacingAndGlyphs">Кинжальная</text>
<text x="616.6" y="302.0" textLength="84.9" lengthAdjust="spacingAndGlyphs">установка <tspan class="sc">ШКАС</tspan>.</text>
<text x="616.6" y="315.6" textLength="78.2" lengthAdjust="spacingAndGlyphs">Для наблюдения</text>
<text x="616.6" y="329.4" textLength="88.9" lengthAdjust="spacingAndGlyphs">имелись бортовые</text>
<text x="616.6" y="343.3" textLength="48.4" lengthAdjust="spacingAndGlyphs">блистеры</text>
<text x="767.6" y="385.0" textLength="115.4" lengthAdjust="spacingAndGlyphs">Самоориентирующееся,</text>
<text x="767.6" y="399.0" textLength="108.8" lengthAdjust="spacingAndGlyphs">убирающееся в полете</text>
<text x="767.6" y="412.6" textLength="90.4" lengthAdjust="spacingAndGlyphs">костыльное колесо</text>
<text x="845.8" y="481.7" textLength="101.2" lengthAdjust="spacingAndGlyphs">Консоли крыла легко</text>
<text x="845.8" y="495.6" textLength="114.7" lengthAdjust="spacingAndGlyphs">отстыковывались, что</text>
<text x="845.8" y="509.4" textLength="131.2" lengthAdjust="spacingAndGlyphs">позволяло ремонтировать</text>
<text x="845.8" y="523.3" textLength="140.9" lengthAdjust="spacingAndGlyphs">самолет в полевых условиях.</text>
<text x="845.8" y="537.2" textLength="121.7" lengthAdjust="spacingAndGlyphs">На нижней поверхности</text>
<text x="845.8" y="551.0" textLength="118.6" lengthAdjust="spacingAndGlyphs">крыла устанавливались</text>
<text x="845.8" y="565.0" textLength="106.2" lengthAdjust="spacingAndGlyphs">тормозные решетки,</text>
<text x="845.8" y="579.0" textLength="62.0" lengthAdjust="spacingAndGlyphs">управляемые</text>
<text x="845.8" y="592.8" textLength="111.2" lengthAdjust="spacingAndGlyphs">электромеханическим</text>
<text x="845.8" y="606.7" textLength="129.7" lengthAdjust="spacingAndGlyphs">автоматом пикирования.</text>
<text x="845.8" y="621.0" textLength="138.9" lengthAdjust="spacingAndGlyphs">Закрылки опускались на 45°</text>
<text x="16.0" y="568.8" textLength="143.0" lengthAdjust="spacingAndGlyphs">В носовой части неподвижно</text>
<text x="16.0" y="583.0" textLength="154.0" lengthAdjust="spacingAndGlyphs">устанавливались два пулемета</text>
<text x="16.0" y="596.9" textLength="155.4" lengthAdjust="spacingAndGlyphs"><tspan class="sc">ШКАС</tspan>. Для обеспечения летчику</text>
<text x="16.0" y="610.7" textLength="138.9" lengthAdjust="spacingAndGlyphs">обзора вниз нижняя плоская</text>
<text x="16.0" y="624.5" textLength="144.8" lengthAdjust="spacingAndGlyphs">поверхность была остеклена</text>
<text x="274.0" y="596.0" textLength="103.2" lengthAdjust="spacingAndGlyphs">Двухстоечное шасси</text>
<text x="258.8" y="610.0" textLength="118.4" lengthAdjust="spacingAndGlyphs">с тормозными колесами</text>
<text x="219.2" y="624.0" textLength="158.0" lengthAdjust="spacingAndGlyphs">убиралось назад в мотогондолы</text>
<text x="460.0" y="596.0" textLength="81.0" lengthAdjust="spacingAndGlyphs">Створки выхода</text>
<text x="460.0" y="610.0" textLength="114.0" lengthAdjust="spacingAndGlyphs">охлаждающего воздуха</text>
<text x="460.0" y="624.0" textLength="90.0" lengthAdjust="spacingAndGlyphs">из водорадиатора</text>
</g>
</svg>
</body></html>
